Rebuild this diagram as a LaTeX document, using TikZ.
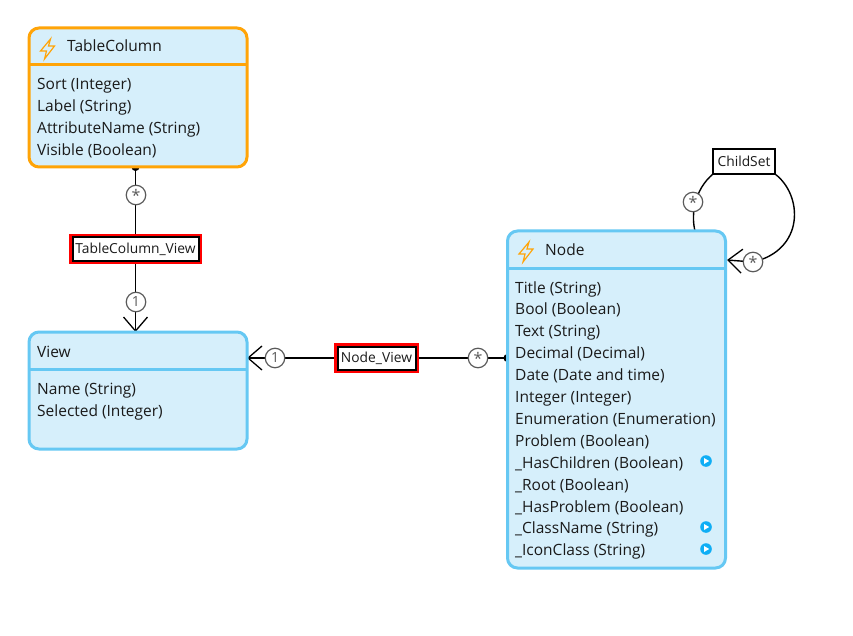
\documentclass[tikz,border=0pt]{standalone}
\usepackage{fontspec}
\setmainfont{Open Sans}
\usetikzlibrary{arrows.meta,backgrounds}
\definecolor{classfill}{HTML}{D6EFFB}
\definecolor{classblue}{HTML}{66C8F3}
\definecolor{classorange}{HTML}{FFA408}
\definecolor{playblue}{HTML}{0FAEF5}
\definecolor{textdark}{HTML}{1A1A1A}
\definecolor{multgray}{HTML}{5A5A5A}
\newcommand{\multstar}{\raisebox{-3.6pt}{\fontsize{16}{16}\selectfont *}}
\tikzset{
  classbox/.style={draw=#1,fill=classfill,line width=3pt,rounded corners=10pt,
    minimum width=218pt,outer sep=0pt,inner sep=0pt},
  attr/.style={anchor=base west,inner sep=0pt,text=textdark,font=\fontsize{15.5}{18}\selectfont},
  assoc/.style={draw=black,fill=white,line width=1.3pt,inner sep=2pt,outer sep=0pt,
    text=textdark,font=\fontsize{13.8}{16}\selectfont},
  assocsel/.style={assoc,minimum height=23pt,line width=2pt,
    preaction={draw=red,line width=7pt}},
  mult/.style={circle,draw=multgray,fill=white,line width=1.2pt,minimum size=19.5pt,
    inner sep=0pt,text=multgray,font=\fontsize{14}{14}\selectfont},
  conn/.style={draw=black,line width=1.4pt},
  bar/.style={-{Straight Barb[length=14pt,width=24pt,line width=1.3pt]}},
  dot/.style={{Circle[length=8pt]}-,shorten <=-4pt},
  bolt/.pic={
    \draw[classorange,line width=1.2pt,line join=miter]
      (3,-10) -- (-7,2) -- (-1,2) -- (-3,10) -- (7,-3) -- (1,-3) -- cycle;
  },
  play/.pic={
    \fill[playblue] (0,0) circle (5.8pt);
    \fill[white] (-2,-3) -- (3.2,0) -- (-2,3) -- cycle;
  }
}
\begin{document}
\begin{tikzpicture}[x=1pt,y=-1pt]
  \useasboundingbox (0,0) rectangle (853,636);

  % Classes
  \node[classbox=classorange,minimum height=139pt] (tablecolumn) at (138,97.5) {};
  \node[classbox=classblue,minimum height=117pt] (view) at (138,390.5) {};
  \node[classbox=classblue,minimum height=337pt] (node) at (616.5,399.5) {};
  \draw[classorange,line width=3pt] (29,65) -- (247,65);
  \draw[classblue,line width=3pt] (29,369) -- (247,369);
  \draw[classblue,line width=3pt] (508,268) -- (725,268);

  % Titles
  \pic at (47.5,49) {bolt};
  \pic at (526,252) {bolt};
  \node[attr] (tctitle) at (67,52) {TableColumn};
  \node[attr] (viewtitle) at (37,357) {View};
  \node[attr] (nodetitle) at (545,255) {Node};

  % Attributes
  \foreach \a [count=\i from 0] in {Sort (Integer),Label (String),AttributeName (String),Visible (Boolean)}{
    \node[attr] (tc\i) at (37,90+22*\i) {\a};
  }
  \foreach \a [count=\i from 0] in {Name (String),Selected (Integer)}{
    \node[attr] (view\i) at (37,394+22*\i) {\a};
  }
  \foreach \a [count=\i from 0] in {Title (String),Bool (Boolean),Text (String),Decimal (Decimal),
      Date (Date and time),Integer (Integer),Enumeration (Enumeration),Problem (Boolean),
      \_HasChildren (Boolean),\_Root (Boolean),\_HasProblem (Boolean),\_ClassName (String),
      \_IconClass (String)}{
    \node[attr] (node\i) at (515,293+21.9*\i) {\a};
  }
  \foreach \y in {461,527,549}{
    \pic at (706,\y) {play};
  }

  % Association labels
  \node[assocsel,minimum width=126pt] (tcview) at (135.5,249) {TableColumn\_View};
  \node[assocsel,minimum width=78pt] (nodeview) at (376.5,358) {Node\_View};
  \node[assoc,minimum width=62pt,minimum height=25pt] (childset) at (744,161.5) {ChildSet};
  \coordinate (selfout) at (695,231);
  \coordinate (selfin) at (727,260);

  % Multiplicities
  \node[mult] (m1) at (136,195) {\multstar};
  \node[mult] (m2) at (136,302) {1};
  \node[mult] (m3) at (275,358) {1};
  \node[mult] (m4) at (478,358) {\multstar};
  \node[mult] (m5) at (693,202) {\multstar};
  \node[mult] (m6) at (753,262) {\multstar};

  % Connectors
  \begin{scope}[on background layer]
    \draw[conn,dot] (tablecolumn.south -| tcview) -- (tcview);
    \draw[conn,bar] (tcview) -- (tcview |- view.north);
    \draw[conn,bar] (nodeview) -- (view.east |- nodeview);
    \draw[conn,dot] (node.west |- nodeview) -- (nodeview);
    \draw[conn] (selfout) .. controls (691,215) and (694,190) .. (childset.south west);
    \draw[conn,bar] (childset.south east) .. controls (803,195) and (805,250) .. (753,262) -- (selfin);
  \end{scope}
\end{tikzpicture}
\end{document}
